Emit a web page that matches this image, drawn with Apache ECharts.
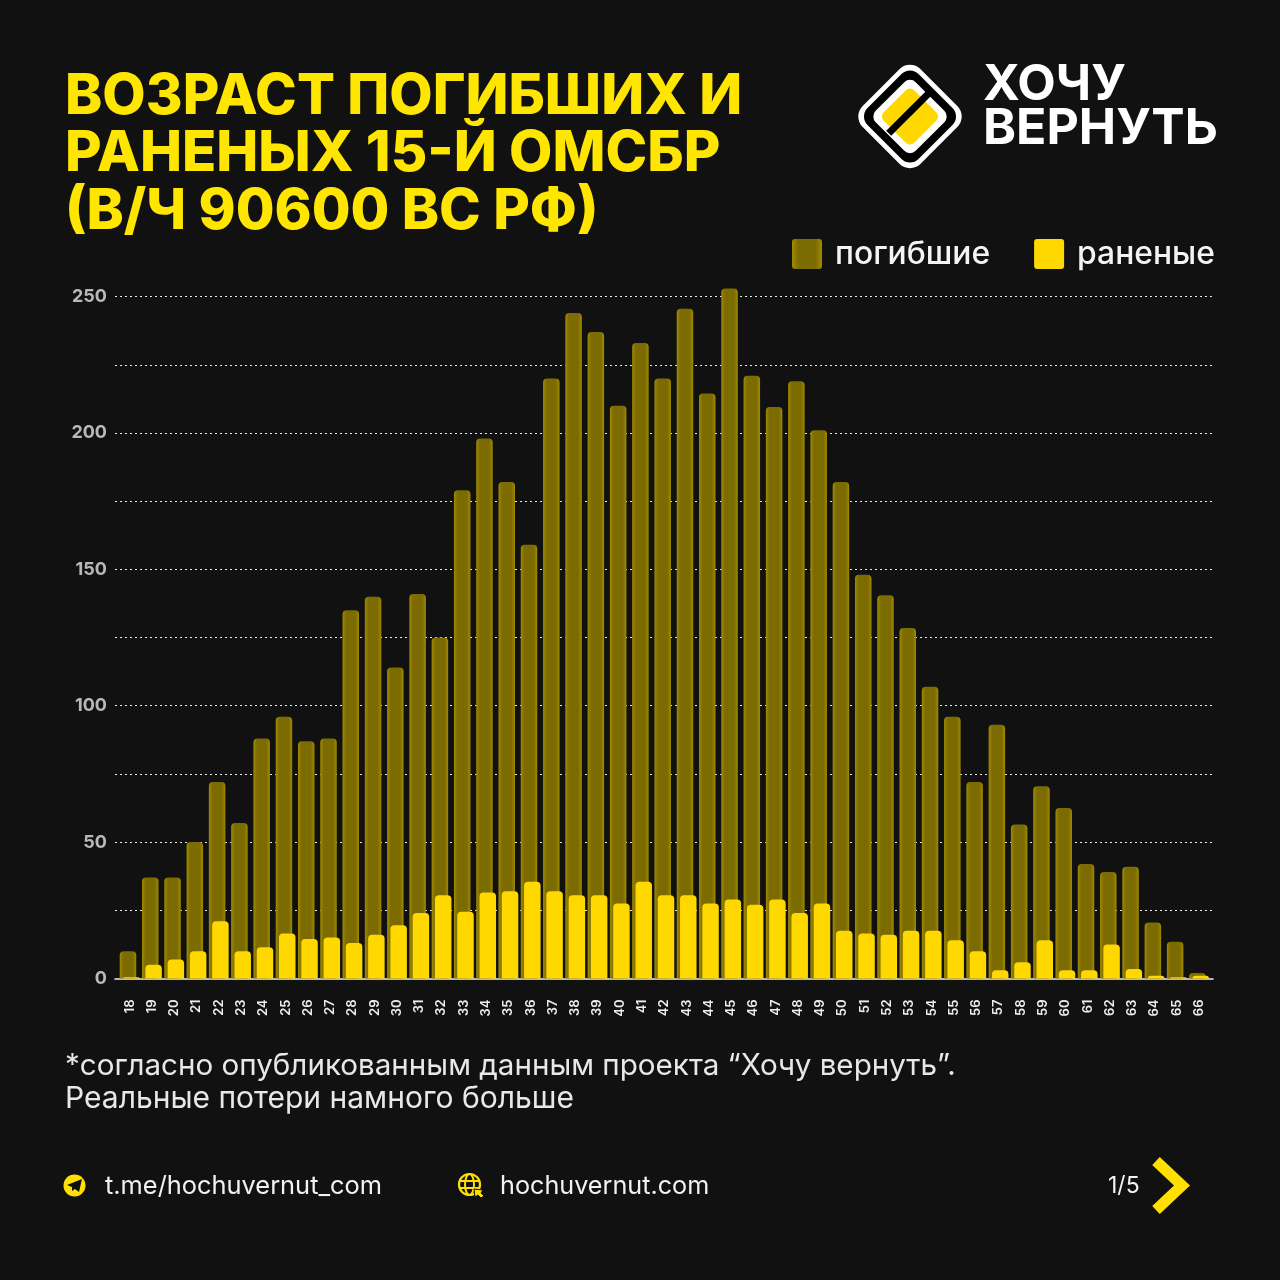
<!DOCTYPE html>
<html><head><meta charset="utf-8">
<style>html,body{margin:0;padding:0;background:#111111}#c{width:1280px;height:1280px}</style>
<script src="https://cdn.jsdelivr.net/npm/echarts@6/dist/echarts.min.js"></script>
</head><body><div id="c"></div>
<script>
const ages = ['18','19','20','21','22','23','24','25','26','27','28','29','30','31','32','33','34','35','36','37','38','39','40','41','42','43','44','45','46','47','48','49','50','51','52','53','54','55','56','57','58','59','60','61','62','63','64','65','66'];
const killed = [10,37,37,50,72,57,88,96,87,88,135,140,114,141,125,179,198,182,159,220,244,237,210,233,220,245.5,214.5,253,221,209.5,219,201,182,148,140.5,128.5,107,96,72,93,56.5,70.5,62.5,42,39,41,20.5,13.5,2];
const wounded = [0.5,5,7,10,21,10,11.5,16.5,14.5,15,13,16,19.5,24,30.5,24.5,31.5,32,35.5,32,30.5,30.5,27.5,35.5,30.5,30.5,27.5,29,27,29,24,27.5,17.5,16.5,16,17.5,17.5,14,10,3,6,14,3,3,12.5,3.5,1,0.5,1];
const titleLines = ['ВОЗРАСТ ПОГИБШИХ И','РАНЕНЫХ 15-Й ОМСБР','(В/Ч 90600 ВС РФ)'];
const noteLines = ['*согласно опубликованным данным проекта “Хочу вернуть”.','Реальные потери намного больше'];

const YEL='#FFD800', TITLE='#FFE600', BG='#111111', FONT='Inter, "Noto Sans", sans-serif';
const chart = echarts.init(document.getElementById('c'), null, {renderer:'canvas'});
const darkFill = new echarts.graphic.LinearGradient(0,0,1,0,[
  {offset:0,color:'#A08B00'},{offset:.22,color:'#7C6B00'},{offset:.78,color:'#7C6B00'},{offset:1,color:'#A08B00'}]);
const text=(x,y,t,size,weight,fill,extra)=>({type:'text',x,y,silent:true,style:Object.assign({text:t,font:weight+' '+size+'px '+FONT,fill,textVerticalAlign:'middle'},extra||{})});
const diamond=(cx,cy,hd,r,fill)=>{const s=2*((hd-r)/Math.SQRT2+r);return {type:'rect',x:cx,y:cy,rotation:Math.PI/4,silent:true,shape:{x:-s/2,y:-s/2,width:s,height:s,r},style:{fill}};};
const LX=910,LY=116.5;
const graphics=[
  ...titleLines.map((t,i)=>text(65,97+i*57.5,t,56.2,800,TITLE)),
  diamond(LX,LY,51.7,15,'#fff'),diamond(LX,LY,46,12,'#000'),diamond(LX,LY,36.7,8,'#fff'),diamond(LX,LY,28,6,YEL),
  {type:'rect',x:LX-1.5,y:LY-3,rotation:-Math.PI/4,silent:true,shape:{x:-3.5,y:-28,width:7,height:56},style:{fill:'#000'}},
  text(983,85,'ХОЧУ',50,700,'#fff'),text(983,129,'ВЕРНУТЬ',50,700,'#fff'),
  text(65,1066,noteLines[0],29.6,400,'#E8E8E8'),text(65,1099,noteLines[1],30,400,'#E8E8E8'),
  {type:'circle',silent:true,shape:{cx:74.5,cy:1185.5,r:11},style:{fill:'#FFE000'}},
  {type:'polygon',silent:true,shape:{points:[[67,1185],[82,1179],[79,1192],[75,1189],[72,1191],[72,1187]]},style:{fill:BG}},
  text(105,1186,'t.me/hochuvernut_com',25.4,400,'#F2F2F2'),
  {type:'circle',silent:true,shape:{cx:469.5,cy:1184.5,r:10.5},style:{fill:'none',stroke:'#FFE000',lineWidth:2.2}},
  {type:'ellipse',silent:true,shape:{cx:469.5,cy:1184.5,rx:4.5,ry:10.5},style:{fill:'none',stroke:'#FFE000',lineWidth:2}},
  {type:'line',silent:true,shape:{x1:460,y1:1181,x2:479,y2:1181},style:{stroke:'#FFE000',lineWidth:2}},
  {type:'line',silent:true,shape:{x1:460,y1:1188,x2:479,y2:1188},style:{stroke:'#FFE000',lineWidth:2}},
  {type:'polygon',silent:true,shape:{points:[[474,1189],[483,1190],[481,1193],[484,1196],[481,1198],[478,1195],[475,1197]]},style:{fill:'#FFE000',stroke:BG,lineWidth:1}},
  text(500,1186,'hochuvernut.com',25.2,400,'#F2F2F2'),
  text(1108,1186,'1/5',23,400,'#F2F2F2'),
  {type:'polyline',silent:true,shape:{points:[[1156,1161],[1182,1185.5],[1156,1210]]},style:{fill:'none',stroke:'#FFE000',lineWidth:11,lineJoin:'miter'}}
];

chart.setOption({
  backgroundColor:BG,
  animation:false,
  textStyle:{fontFamily:FONT},
  legend:{left:787,top:233,itemWidth:30,itemHeight:30,itemGap:44,
    icon:'path://M3,0H27Q30,0 30,3V27Q30,30 27,30H3Q0,30 0,27V3Q0,0 3,0Z',
    textStyle:{color:'#F4F4F4',fontSize:31.8,fontWeight:500,padding:[0,0,0,8]},selectedMode:false,
    data:['погибшие','раненые']},
  grid:[
    {left:118.5,right:69.8,top:228.4,height:750.1},
    {left:115,right:67,top:228.4,height:750.1}
  ],
  xAxis:[
    {type:'category',gridIndex:0,data:ages,axisLine:{show:false},axisTick:{show:false},
     axisLabel:{interval:0,rotate:90,color:'#EDEDED',fontSize:13,fontWeight:600,margin:21,padding:[0,0,3,0]}},
    {type:'value',gridIndex:1,min:0,max:1,show:true,splitLine:{show:false},axisTick:{show:false},axisLabel:{show:false},
     axisLine:{onZero:false,lineStyle:{color:'#F0F0F0',width:1.5}}}
  ],
  yAxis:[
    {type:'value',gridIndex:0,min:0,max:275,interval:25,show:false},
    {type:'value',gridIndex:1,min:0,max:275,interval:25,
     axisLine:{show:false},axisTick:{show:false},
     splitLine:{show:true,showMinLine:false,showMaxLine:false,lineStyle:{color:'#E8E8E8',type:[2,3],width:1}},
     axisLabel:{color:'#B8B8B8',fontSize:18,fontWeight:700,margin:8,padding:[2,0,0,0],
       formatter:v=>(v%50===0&&v<=250)?String(v):''}}
  ],
  series:[
    {name:'погибшие',type:'bar',xAxisIndex:0,yAxisIndex:0,data:killed,barWidth:16.5,barGap:'-80%',z:3,
     itemStyle:{color:darkFill,borderRadius:[4,4,0,0]}},
    {name:'раненые',type:'bar',xAxisIndex:0,yAxisIndex:0,data:wounded,barWidth:16.5,z:4,
     itemStyle:{color:YEL,borderRadius:[4,4,0,0]}}
  ],
  graphic:{elements:graphics}
});
</script></body></html>
